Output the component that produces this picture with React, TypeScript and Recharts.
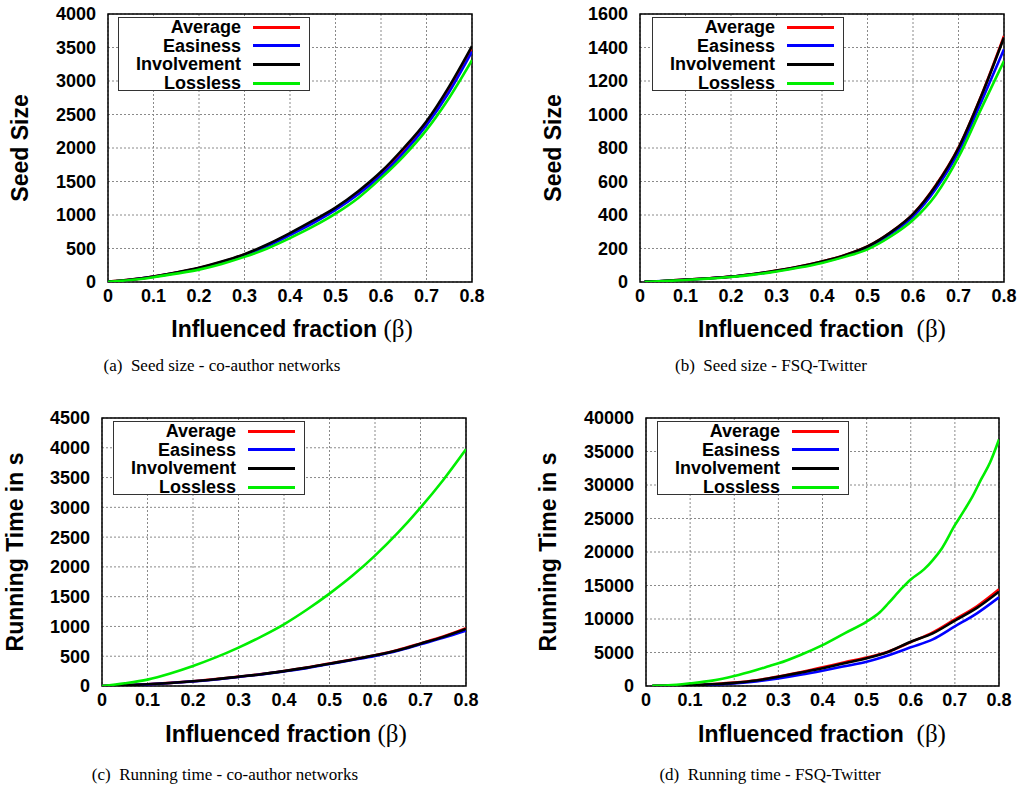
import React from 'react';
import { LineChart, Line, XAxis, YAxis, CartesianGrid, ReferenceArea, Legend } from 'recharts';

const SERIES_NAMES = ['Average', 'Easiness', 'Involvement', 'Lossless'];
const SERIES_COLORS = ['#ff0000', '#0000ff', '#000000', '#00ee00'];
const X_TICKS = [0, 0.1, 0.2, 0.3, 0.4, 0.5, 0.6, 0.7, 0.8];

// (a) Seed size - co-author networks
const A_X = [0, 0.05, 0.1, 0.15, 0.2, 0.25, 0.3, 0.35, 0.4, 0.45, 0.5, 0.55, 0.6, 0.65, 0.7, 0.75, 0.8];
const A_AVG = [5, 35, 80, 140, 210, 300, 410, 550, 720, 900, 1100, 1340, 1620, 1970, 2380, 2890, 3490];
const A_EAS = [5, 34, 78, 136, 205, 292, 400, 535, 700, 875, 1075, 1310, 1590, 1930, 2340, 2840, 3440];
const A_INV = [6, 36, 82, 142, 213, 305, 415, 560, 730, 915, 1110, 1355, 1645, 2000, 2400, 2920, 3520];
const A_LOS = [4, 30, 72, 125, 185, 270, 375, 500, 655, 825, 1020, 1255, 1550, 1880, 2270, 2750, 3310];
const A_YTICKS = [0, 500, 1000, 1500, 2000, 2500, 3000, 3500, 4000];

// (b) Seed size - FSQ-Twitter
const B_X = [0.01, 0.05, 0.1, 0.15, 0.2, 0.25, 0.3, 0.35, 0.4, 0.45, 0.5, 0.55, 0.6, 0.65, 0.7, 0.75, 0.8];
const B_AVG = [2, 6, 14, 22, 32, 48, 68, 92, 122, 160, 212, 295, 405, 577, 802, 1112, 1469];
const B_EAS = [2, 6, 13, 21, 31, 46, 66, 89, 118, 155, 205, 285, 390, 555, 775, 1075, 1389];
const B_INV = [2, 6, 14, 22, 32, 48, 68, 92, 122, 160, 212, 295, 405, 575, 800, 1110, 1460];
const B_LOS = [1, 5, 12, 20, 30, 44, 63, 86, 114, 150, 195, 270, 370, 520, 745, 1035, 1320];
const B_YTICKS = [0, 200, 400, 600, 800, 1000, 1200, 1400, 1600];

// (c) Running time - co-author networks
const C_X = [0, 0.05, 0.1, 0.15, 0.2, 0.25, 0.3, 0.35, 0.4, 0.45, 0.5, 0.55, 0.6, 0.65, 0.7, 0.75, 0.8];
const C_AVG = [0, 12, 30, 52, 80, 115, 157, 200, 252, 310, 378, 445, 518, 605, 715, 830, 970];
const C_EAS = [0, 11, 28, 50, 77, 110, 152, 195, 245, 300, 368, 435, 505, 590, 700, 810, 930];
const C_INV = [0, 12, 29, 51, 79, 113, 156, 198, 250, 308, 375, 442, 515, 600, 711, 825, 958];
const C_LOS = [0, 45, 107, 210, 336, 480, 645, 830, 1036, 1280, 1551, 1850, 2189, 2570, 2995, 3460, 3974];
const C_YTICKS = [0, 500, 1000, 1500, 2000, 2500, 3000, 3500, 4000, 4500];

// (d) Running time - FSQ-Twitter
const D_X = [0.014, 0.05, 0.1, 0.15, 0.2, 0.25, 0.3, 0.35, 0.4, 0.45, 0.5, 0.55, 0.6, 0.65, 0.7, 0.75, 0.8];
const D_AVG = [10, 40, 110, 280, 500, 850, 1420, 2050, 2790, 3550, 4250, 5150, 6550, 8000, 9950, 11900, 14430];
const D_EAS = [8, 30, 80, 200, 380, 680, 1140, 1680, 2290, 2950, 3630, 4600, 5770, 6960, 8900, 10850, 13240];
const D_INV = [10, 38, 100, 260, 470, 820, 1390, 2000, 2640, 3400, 4130, 5120, 6610, 7860, 9750, 11650, 14070];
const D_LOS_X = [0.014, 0.05, 0.1, 0.15, 0.2, 0.25, 0.28, 0.3, 0.35, 0.4, 0.45, 0.5, 0.53, 0.55, 0.58, 0.6, 0.63, 0.65, 0.67, 0.7, 0.72, 0.74, 0.76, 0.78, 0.8];
const D_LOS = [30, 100, 400, 800, 1490, 2390, 2985, 3380, 4630, 6100, 7860, 9600, 11000, 12400, 14600, 15900, 17400, 18800, 20500, 24000, 26100, 28300, 30900, 33400, 36800];
const D_YTICKS = [0, 5000, 10000, 15000, 20000, 25000, 30000, 35000, 40000];

const toPts = (xs: number[], ys: number[]) => xs.map((x, i) => ({ x, y: ys[i] }));

const SANS = '"Liberation Sans", Arial, Helvetica, sans-serif';
const SERIF = '"Liberation Serif", "Times New Roman", serif';

type PanelCfg = {
  ox: number; oy: number;
  plot: { x: number; y: number; w: number; h: number };
  yTicks: number[];
  series: { x: number; y: number }[][];
  yLabel: string; yLabelPos: [number, number];
  xLabel: string; xLabelPos: [number, number];
  caption: string; captionPos: [number, number];
  legendPos: [number, number];
};

const PANELS: PanelCfg[] = [
  {
    ox: 0, oy: 0, plot: { x: 108, y: 14, w: 364, h: 268 }, yTicks: A_YTICKS,
    series: [toPts(A_X, A_AVG), toPts(A_X, A_EAS), toPts(A_X, A_INV), toPts(A_X, A_LOS)],
    yLabel: 'Seed Size', yLabelPos: [20, 148],
    xLabel: 'Influenced fraction ', xLabelPos: [292, 328],
    caption: '(a)  Seed size - co-author networks', captionPos: [222, 365],
    legendPos: [118, 17],
  },
  {
    ox: 510, oy: 0, plot: { x: 640, y: 14, w: 364, h: 268 }, yTicks: B_YTICKS,
    series: [toPts(B_X, B_AVG), toPts(B_X, B_EAS), toPts(B_X, B_INV), toPts(B_X, B_LOS)],
    yLabel: 'Seed Size', yLabelPos: [553, 148],
    xLabel: 'Influenced fraction  ', xLabelPos: [822, 328],
    caption: '(b)  Seed size - FSQ-Twitter', captionPos: [771, 365],
    legendPos: [652, 17],
  },
  {
    ox: 0, oy: 400, plot: { x: 102, y: 418, w: 364, h: 268 }, yTicks: C_YTICKS,
    series: [toPts(C_X, C_AVG), toPts(C_X, C_EAS), toPts(C_X, C_INV), toPts(C_X, C_LOS)],
    yLabel: 'Running Time in s', yLabelPos: [15, 552],
    xLabel: 'Influenced fraction ', xLabelPos: [286, 733],
    caption: '(c)  Running time - co-author networks', captionPos: [225, 774],
    legendPos: [113, 421],
  },
  {
    ox: 510, oy: 400, plot: { x: 646, y: 418, w: 353, h: 268 }, yTicks: D_YTICKS,
    series: [toPts(D_X, D_AVG), toPts(D_X, D_EAS), toPts(D_X, D_INV), toPts(D_LOS_X, D_LOS)],
    yLabel: 'Running Time in s', yLabelPos: [548, 552],
    xLabel: 'Influenced fraction  ', xLabelPos: [822, 733],
    caption: '(d)  Running time - FSQ-Twitter', captionPos: [770, 774],
    legendPos: [657, 421],
  },
];

const W = 511;
const H = 360;
const XAXIS_H = 50;

const LegendBox = (props: any) => {
  const payload: any[] = props.payload && props.payload.length
    ? props.payload
    : SERIES_NAMES.map((n, i) => ({ value: n, color: SERIES_COLORS[i] }));
  return (
    <div style={{
      width: 192, height: 74, border: '1px solid #333', background: '#fff',
      boxSizing: 'border-box', paddingTop: 0,
    }}>
      {payload.map((e: any, i: number) => (
        <div key={i} style={{ display: 'flex', alignItems: 'center', height: 18.6 }}>
          <div style={{
            width: 122, textAlign: 'right', fontFamily: SANS, fontWeight: 'bold',
            fontSize: 18, lineHeight: '18px', color: '#000', whiteSpace: 'nowrap',
          }}>{e.value}</div>
          <div style={{ width: 47, height: 3, background: e.color, marginLeft: 12 }} />
        </div>
      ))}
    </div>
  );
};

const Panel = ({ cfg }: { cfg: PanelCfg }) => {
  const px = cfg.plot.x - cfg.ox;
  const py = cfg.plot.y - cfg.oy;
  const yMax = cfg.yTicks[cfg.yTicks.length - 1];
  const margin = {
    top: py,
    right: W - px - cfg.plot.w,
    left: 0,
    bottom: H - py - cfg.plot.h - XAXIS_H,
  };
  const tickStyle = { fontFamily: SANS, fontWeight: 'bold' as const, fontSize: 18, fill: '#000' };
  return (
    <div style={{ position: 'absolute', left: cfg.ox, top: cfg.oy, width: W, height: H }}>
      <LineChart width={W} height={H} margin={margin}>
        <CartesianGrid stroke="#8a8a8a" strokeDasharray="2 2" strokeWidth={1} />
        <XAxis
          type="number" dataKey="x" domain={[0, 0.8]} ticks={X_TICKS}
          allowDataOverflow height={XAXIS_H} axisLine={false} tickLine={false}
          tickSize={4} tickMargin={3} tick={tickStyle} interval={0}
          tickFormatter={(v: number) => String(v)}
        />
        <YAxis
          type="number" domain={[0, yMax]} ticks={cfg.yTicks} width={px}
          axisLine={false} tickLine={false} tickSize={6} tickMargin={6}
          tick={tickStyle} interval={0} allowDataOverflow
        />
        {cfg.series.map((data, i) => (
          <Line
            key={SERIES_NAMES[i]} data={data} dataKey="y" name={SERIES_NAMES[i]}
            stroke={SERIES_COLORS[i]} strokeWidth={2.6} dot={false}
            type="monotone" isAnimationActive={false}
          />
        ))}
        <ReferenceArea x1={0} x2={0.8} y1={0} y2={yMax} fill="none" fillOpacity={0}
          stroke="#000" strokeWidth={1.5} ifOverflow="visible" />
        <Legend
          layout="vertical" align="center" verticalAlign="middle"
          wrapperStyle={{ left: cfg.legendPos[0] - cfg.ox, top: cfg.legendPos[1] - cfg.oy, width: 192, height: 74 }}
          content={LegendBox}
        />
      </LineChart>
    </div>
  );
};

export default function App() {
  return (
    <div style={{ position: 'absolute', left: 0, top: 0, width: 1021, height: 789, background: '#fff', overflow: 'hidden' }}>
      {PANELS.map((cfg, i) => (
        <Panel key={i} cfg={cfg} />
      ))}
      {PANELS.map((cfg, i) => (
        <React.Fragment key={'t' + i}>
          <div style={{
            position: 'absolute', left: cfg.yLabelPos[0], top: cfg.yLabelPos[1],
            transform: 'translate(-50%, -50%) rotate(-90deg)', whiteSpace: 'nowrap',
            fontFamily: SANS, fontWeight: 'bold', fontSize: 23, color: '#000', lineHeight: 1,
          }}>{cfg.yLabel}</div>
          <div style={{
            position: 'absolute', left: cfg.xLabelPos[0], top: cfg.xLabelPos[1],
            transform: 'translate(-50%, -50%)', whiteSpace: 'pre',
            fontFamily: SANS, fontWeight: 'bold', fontSize: 23, color: '#000', lineHeight: 1,
          }}>{cfg.xLabel}<span style={{ fontFamily: SERIF, fontWeight: 'normal', fontSize: 25 }}>(β)</span></div>
          <div style={{
            position: 'absolute', left: cfg.captionPos[0], top: cfg.captionPos[1],
            transform: 'translate(-50%, -50%)', whiteSpace: 'pre',
            fontFamily: SERIF, fontSize: 17, color: '#000', lineHeight: 1,
          }}>{cfg.caption}</div>
        </React.Fragment>
      ))}
    </div>
  );
}
